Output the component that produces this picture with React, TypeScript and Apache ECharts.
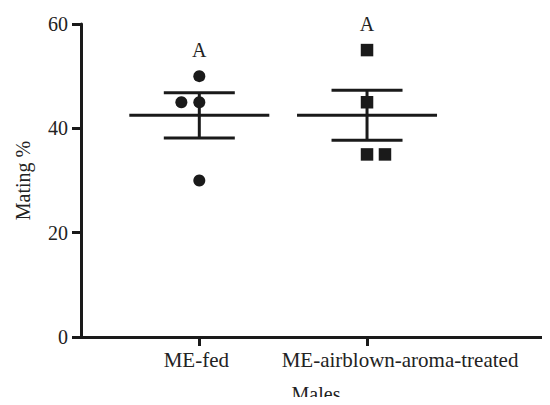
import React, { useEffect, useRef } from "react";
import * as echarts from "echarts";

const categories = ["ME-fed", "ME-airblown-aroma-treated"];
const groupPositions = [1, 2];
const fedValues = [50, 45, 45, 30];
const fedJitter = [0, -0.107, 0, 0];
const airValues = [55, 45, 35, 35];
const airJitter = [0, 0, 0, 0.107];
const letters = ["A", "A"];
const yTicks = [0, 20, 40, 60];
const xTitle = "Males";
const yTitle = "Mating %";

function stats(v: number[]) {
  const n = v.length;
  const m = v.reduce((a, b) => a + b, 0) / n;
  const sd = Math.sqrt(v.reduce((a, b) => a + (b - m) * (b - m), 0) / (n - 1));
  return { mean: m, sem: sd / Math.sqrt(n) };
}

export default function App() {
  const ref = useRef<HTMLDivElement>(null);
  useEffect(() => {
    if (!ref.current) return;
    const chart = echarts.init(ref.current, undefined, { renderer: "svg" });
    const font = "Liberation Serif";
    const color = "#1a1a1a";
    const txt = "#222";
    const ts = { fontFamily: font, fontSize: 20, color: txt };
    const cs = { fontFamily: font, fontSize: 21, color: txt };
    const groups = [fedValues, airValues];
    const summary = groups.map((g, i) => {
      const s = stats(g);
      return [groupPositions[i], s.mean, s.mean - s.sem, s.mean + s.sem];
    });
    const mkPts = (vals: number[], jit: number[], gi: number) =>
      vals.map((v, i) => {
        const top = v === Math.max(...vals) && jit[i] === 0;
        return {
          value: [groupPositions[gi] + jit[i], v],
          label: top
            ? { show: true, position: "top", distance: 10, formatter: letters[gi], ...ts }
            : { show: false },
        };
      });

    chart.setOption({
      animation: false,
      textStyle: { fontFamily: font, color: txt, fontSize: 20 },
      grid: { left: 81, right: 1, top: 24, bottom: 68, outerBoundsMode: "none", containLabel: false },
      graphic: [
        {
          type: "text",
          x: 316,
          y: 384,
          style: {
            text: xTitle,
            fontFamily: font,
            fontSize: 20,
            fill: txt,
            align: "center",
            verticalAlign: "top",
          },
        },
      ],
      xAxis: {
        type: "value",
        min: 0.2946,
        max: 3.085,
        splitLine: { show: false },
        axisLine: { show: true, lineStyle: { color, width: 3 } },
        axisTick: {
          show: true,
          customValues: groupPositions,
          length: 9,
          lineStyle: { color, width: 3 },
        },
        axisLabel: {
          customValues: groupPositions,
          formatter: (v: number) => {
            const i = Math.round(v) - 1;
            const c = categories[i] ?? "";
            return i === 0 ? "{a|" + c + "}" : "{b|" + c + "}";
          },
          ...cs,
          rich: {
            a: { ...cs, padding: [0, 6, 0, 0] },
            b: { ...cs, padding: [0, 0, 0, 66] },
          },
          margin: 12,
        },
      },
      yAxis: {
        type: "value",
        min: 0,
        max: 60,
        interval: 20,
        name: yTitle,
        nameLocation: "middle",
        nameGap: 48,
        nameTextStyle: ts,
        splitLine: { show: false },
        axisLine: { show: true, lineStyle: { color, width: 3 } },
        axisTick: { show: true, length: 9, lineStyle: { color, width: 3 } },
        axisLabel: {
          ...ts,
          margin: 13,
          formatter: (v: number) => (yTicks.includes(v) ? String(v) : ""),
        },
      },
      series: [
        {
          type: "custom",
          data: summary,
          z: 3,
          renderItem: (params: any, api: any) => {
            const x = api.value(0);
            const mean = api.coord([x, api.value(1)]);
            const lo = api.coord([x, api.value(2)]);
            const hi = api.coord([x, api.value(3)]);
            const halfMean = 70;
            const halfCap = 35.5;
            const style = { stroke: color, lineWidth: 3 };
            return {
              type: "group",
              children: [
                { type: "line", shape: { x1: mean[0] - halfMean, y1: mean[1], x2: mean[0] + halfMean, y2: mean[1] }, style },
                { type: "line", shape: { x1: hi[0], y1: hi[1], x2: lo[0], y2: lo[1] }, style },
                { type: "line", shape: { x1: hi[0] - halfCap, y1: hi[1], x2: hi[0] + halfCap, y2: hi[1] }, style },
                { type: "line", shape: { x1: lo[0] - halfCap, y1: lo[1], x2: lo[0] + halfCap, y2: lo[1] }, style },
              ],
            };
          },
        },
        {
          type: "scatter",
          symbol: "circle",
          symbolSize: 12,
          itemStyle: { color, opacity: 1 },
          data: mkPts(fedValues, fedJitter, 0),
          z: 4,
        },
        {
          type: "scatter",
          symbol: "rect",
          symbolSize: 12.5,
          itemStyle: { color, opacity: 1 },
          data: mkPts(airValues, airJitter, 1),
          z: 4,
        },
      ],
    });
    return () => chart.dispose();
  }, []);
  return <div ref={ref} style={{ width: 550, height: 405, margin: -8 }} />;
}
